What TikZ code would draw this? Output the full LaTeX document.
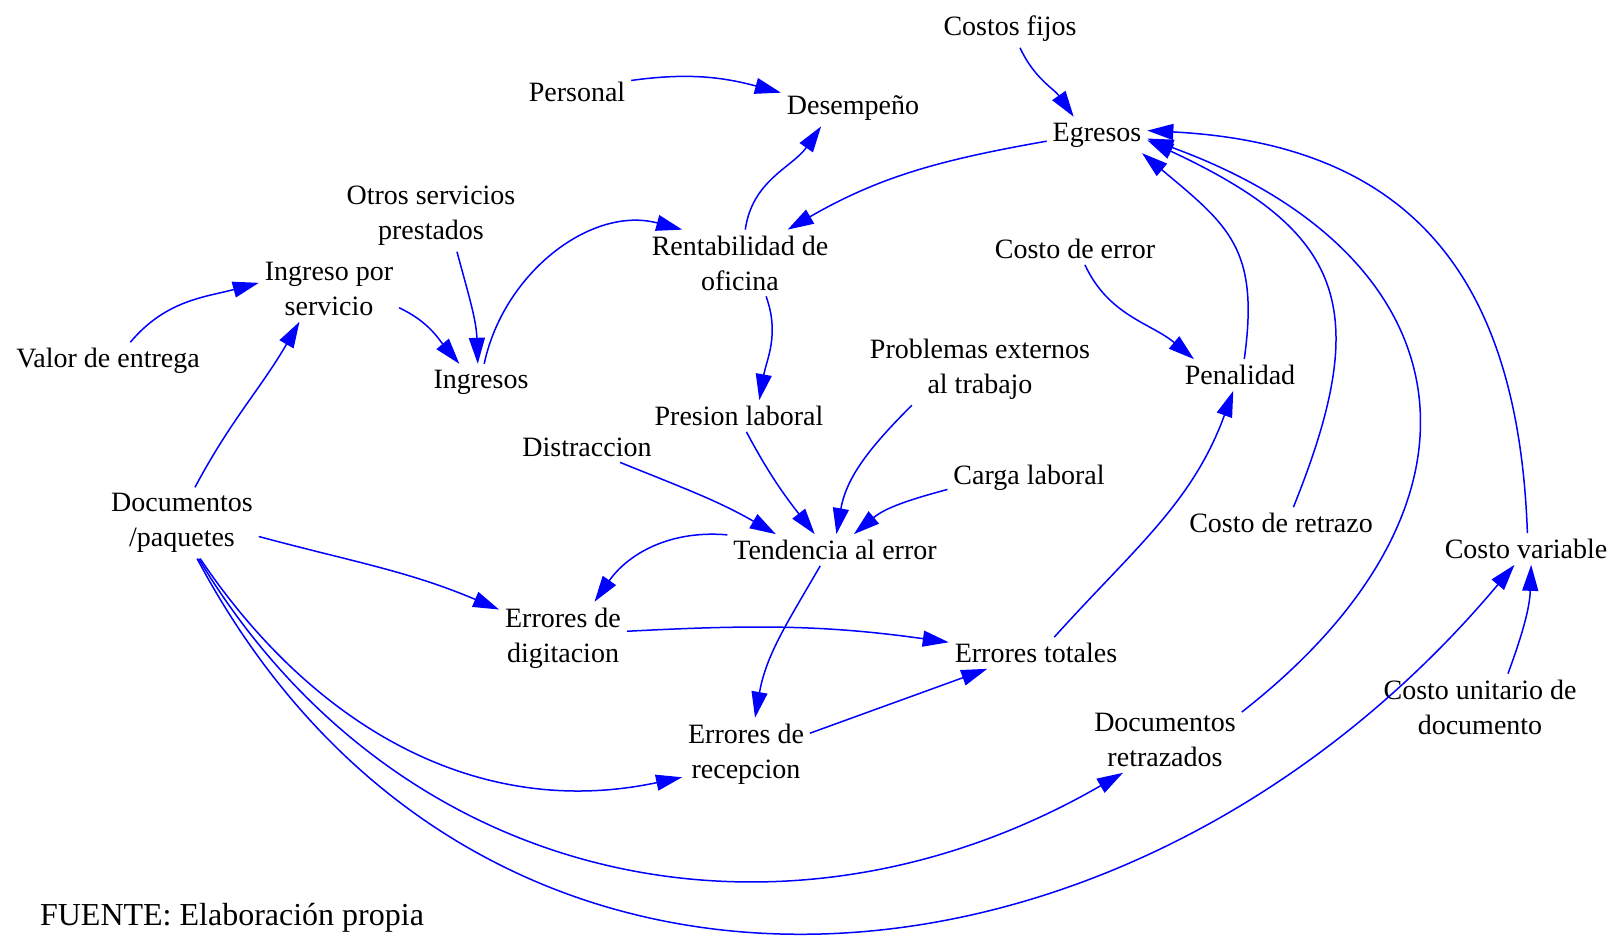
\documentclass[tikz,border=0pt]{standalone}
\usepackage{fontspec}
\setmainfont{Liberation Serif}
\usepackage{tikz}
\usetikzlibrary{arrows.meta}
\definecolor{linkblue}{RGB}{0,0,255}
\tikzstyle{var} = [
    rectangle, align=center,
    inner sep=3pt, outer sep=0pt,
    font=\fontsize{14}{17.5}\selectfont,
]
\tikzstyle{link} = [
    draw=linkblue, line width=0.75pt,
    -{Triangle[length=13pt,width=8pt]},
]

\begin{document}
\begin{tikzpicture}[x=0.5pt, y=0.5pt]
    \useasboundingbox (0,0) rectangle (1610,936);

    % variables
    \node (cfijos) at (1010, 907) [var] {Costos fijos};
    \node (personal) at (577, 844) [var] {Personal};
    \node (desemp) at (853, 828) [var] {Desempeño};
    \node (egresos) at (1097, 801) [var] {Egresos};
    \node (otros) at (431, 720) [var] {Otros servicios\\prestados};
    \node (rentab) at (740, 673) [var] {Rentabilidad de\\oficina};
    \node (cerror) at (1075, 687) [var] {Costo de error};
    \node (ingserv) at (329, 647) [var] {Ingreso por\\servicio};
    \node (valor) at (108, 575) [var] {Valor de entrega};
    \node (ingresos) at (481, 554) [var] {Ingresos};
    \node (problemas) at (980, 567) [var] {Problemas externos\\al trabajo};
    \node (penal) at (1240, 561) [var] {Penalidad};
    \node (presion) at (739, 520) [var] {Presion laboral};
    \node (distr) at (587, 489) [var] {Distraccion};
    \node (carga) at (1029, 458) [var] {Carga laboral};
    \node (docs) at (182, 413) [var] {Documentos\\/paquetes};
    \node (cretrazo) at (1281, 413) [var] {Costo de retrazo};
    \node (tendencia) at (835, 386) [var] {Tendencia al error};
    \node (cvariable) at (1526, 387) [var] {Costo variable};
    \node (edigit) at (563, 298) [var] {Errores de\\digitacion};
    \node (etotales) at (1036, 283) [var] {Errores totales};
    \node (cunitario) at (1480, 229) [var] {Costo unitario de\\documento};
    \node (dretrazados) at (1165, 196) [var] {Documentos\\retrazados};
    \node (erecep) at (746, 182) [var] {Errores de\\recepcion};
    \node (fuente) at (33, 18) [anchor=west, font=\fontsize{16}{19}\selectfont] {FUENTE: Elaboración propia};

    % links
    \draw [link] (cfijos.-62) to[out=-65, in=125] (egresos.142);
    \draw [link] (personal.12) to[out=8, in=165] (desemp.168);
    \draw [link] (rentab.81) to[out=82, in=235] (desemp.210);
    \draw [link] (egresos.187) to[out=190, in=30] (rentab.35);
    \draw [link] (otros.-54) to[out=-75, in=92] (ingresos.100);
    \draw [link] (ingresos.80) to[out=78, in=165] (rentab.150);
    \draw [link] (valor.40) to[out=50, in=195] (ingserv.175);
    \draw [link] (ingserv.-15) to[out=-25, in=130] (ingresos.140);
    \draw [link] (docs.70) to[out=62, in=240] (ingserv.228);
    \draw [link] (rentab.-52) to[out=-70, in=80] (presion.38);
    \draw [link] (cerror.-58) to[out=-65, in=140] (penal.161);
    \draw [link] (penal.75) to[out=82, in=-40, looseness=1.25] (egresos.-22);
    \draw [link] (presion.-65) to[out=-62, in=128] (tendencia.142);
    \draw [link] (problemas.208) to[out=225, in=80] (tendencia.85);
    \draw [link] (carga.188) to[out=195, in=40] (tendencia.40);
    \draw [link] (distr.-25) to[out=-22, in=150] (tendencia.165);
    \draw [link] (tendencia.172) to[out=175, in=55] (edigit.49);
    \draw [link] (tendencia.227) to[out=240, in=80] (erecep.76);
    \draw [link] (docs.-10) to[out=-15, in=157] (edigit.156);
    \draw [link] (edigit.6) to[out=3, in=172] (etotales.173);
    \draw [link] (erecep.18) to[out=20, in=200] (etotales.198);
    \draw [link] (etotales.41) to[out=48, in=250] (penal.247);
    \draw [link] (docs.-63) to[out=-56, in=192] (erecep.200);
    \draw [link] (docs.-65) to[out=-59, in=210, looseness=1.05] (dretrazados.218);
    \draw [link] (docs.-67) to[out=-62, in=230, looseness=1.16] (cvariable.234);
    \draw [link] (dretrazados.20) to[out=38, in=-20, looseness=1.5] (egresos.-4);
    \draw [link] (cretrazo.52) to[out=68, in=-25, looseness=1.4] (egresos.-6);
    \draw [link] (cvariable.85) to[out=92, in=-3, looseness=1.2] (egresos.5);
    \draw [link] (cunitario.50) to[out=70, in=-92] (cvariable.-72);
\end{tikzpicture}
\end{document}
